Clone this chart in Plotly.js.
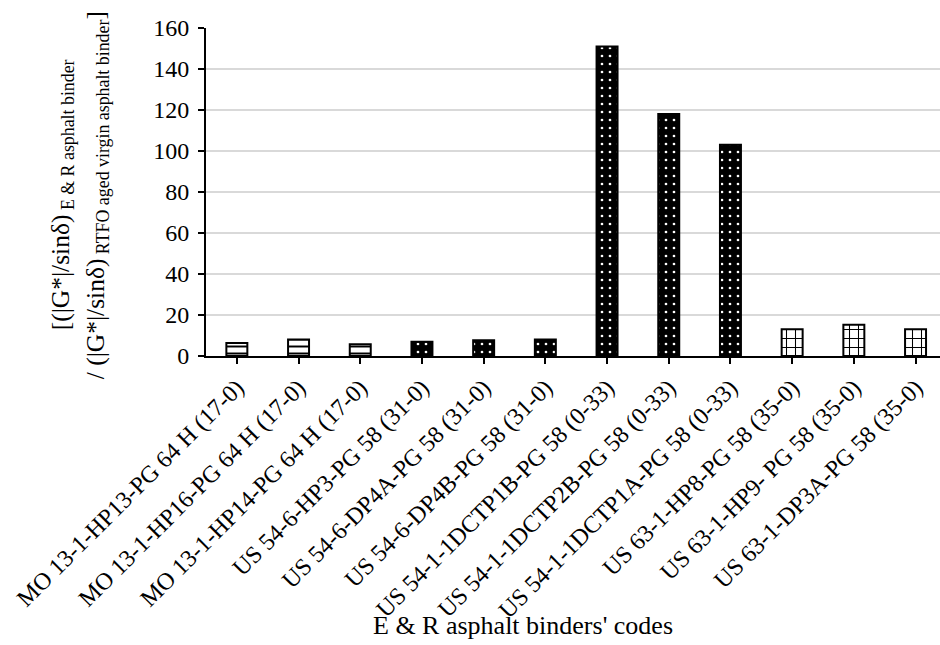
<!DOCTYPE html>
<html>
<head>
<meta charset="utf-8">
<script src="https://cdn.plot.ly/plotly-3.0.1.min.js"></script>
<style>
  html, body { margin: 0; padding: 0; background: #ffffff; }
  #chart { width: 940px; height: 645px; }
</style>
</head>
<body>
<div id="chart"></div>
<script>
// E & R binder codes along the category axis
const binderCodes = [
  "MO 13-1-HP13-PG 64 H (17-0)",
  "MO 13-1-HP16-PG 64 H (17-0)",
  "MO 13-1-HP14-PG 64 H (17-0)",
  "US 54-6-HP3-PG 58 (31-0)",
  "US 54-6-DP4A-PG 58 (31-0)",
  "US 54-6-DP4B-PG 58 (31-0)",
  "US 54-1-1DCTP1B-PG 58 (0-33)",
  "US 54-1-1DCTP2B-PG 58 (0-33)",
  "US 54-1-1DCTP1A-PG 58 (0-33)",
  "US 63-1-HP8-PG 58 (35-0)",
  "US 63-1-HP9- PG 58 (35-0)",
  "US 63-1-DP3A-PG 58 (35-0)"
];

// Ratio of (|G*|/sin delta) of each E & R binder to that of the RTFO aged virgin binder
const stiffnessRatio = [6.3, 8.0, 5.7, 7.0, 7.7, 8.1, 151, 118, 103, 13.0, 15.2, 13.0];

// Road section each binder belongs to (drives the fill pattern)
const roadSection = ["MO 13", "MO 13", "MO 13", "US 54-6", "US 54-6", "US 54-6",
                     "US 54-1", "US 54-1", "US 54-1", "US 63", "US 63", "US 63"];

// Fill pattern per road section
const sectionPattern = {
  "MO 13":   { shape: "-", bg: "#ffffff", fg: "#000000", size: 7, solidity: 0.28 },
  "US 54-6": { shape: ".", bg: "#000000", fg: "#ffffff", size: 8, solidity: 0.09 },
  "US 54-1": { shape: ".", bg: "#000000", fg: "#ffffff", size: 8, solidity: 0.09 },
  "US 63":   { shape: "+", bg: "#ffffff", fg: "#000000", size: 9, solidity: 0.22 }
};

const serif = "Liberation Serif";

// One trace per road section, each drawn on the shared category axis
const traces = Object.keys(sectionPattern).map(section => {
  const idx = roadSection.map((s, i) => (s === section ? i : -1)).filter(i => i >= 0);
  const p = sectionPattern[section];
  return {
    type: "bar",
    name: section,
    x: idx.map(i => binderCodes[i]),
    y: idx.map(i => stiffnessRatio[i]),
    width: 0.34,
    marker: {
      color: p.bg,
      line: { color: "#000000", width: 2 },
      pattern: {
        shape: p.shape,
        fillmode: "overlay",
        bgcolor: p.bg,
        fgcolor: p.fg,
        fgopacity: 1,
        size: p.size,
        solidity: p.solidity
      }
    },
    hoverinfo: "x+y"
  };
});

// Plot area spans 206px..940px; one category is ~61.7px wide
const plotLeft = 206, plotWidth = 940 - 206;
const catWidth = 61.7;

const layout = {
  width: 940,
  height: 645,
  paper_bgcolor: "#ffffff",
  plot_bgcolor: "#ffffff",
  margin: { l: plotLeft, r: 0, t: 28, b: 289, pad: 0 },
  showlegend: false,
  barmode: "overlay",
  font: { family: serif, color: "#000000" },
  xaxis: {
    type: "category",
    categoryorder: "array",
    categoryarray: binderCodes,
    range: [-0.5, -0.5 + plotWidth / catWidth],
    tickangle: -45,
    tickfont: { family: serif, size: 24, color: "#000000" },
    showline: true,
    linecolor: "#000000",
    linewidth: 2,
    ticks: "outside",
    ticklen: 6,
    tickwidth: 2,
    tickcolor: "#000000",
    showgrid: false,
    zeroline: false,
    automargin: false,
    fixedrange: true
  },
  yaxis: {
    range: [0, 160],
    dtick: 20,
    tick0: 0,
    tickfont: { family: serif, size: 24, color: "#000000" },
    ticklabelstandoff: 4,
    showline: true,
    linecolor: "#000000",
    linewidth: 2,
    ticks: "outside",
    ticklen: 6,
    tickwidth: 2,
    tickcolor: "#000000",
    showgrid: true,
    gridcolor: "#d9d9d9",
    gridwidth: 1.5,
    zeroline: false,
    automargin: false,
    fixedrange: true
  },
  annotations: [
    {
      text: "[(|G*|/sinδ)<sub> E &amp; R asphalt binder</sub>",
      xref: "paper", yref: "paper",
      x: (62 - plotLeft) / plotWidth, y: 0.49,
      xanchor: "center", yanchor: "middle",
      textangle: -90, showarrow: false,
      font: { family: serif, size: 25.5, color: "#000000" }
    },
    {
      text: "/ (|G*|/sinδ)<sub> RTFO aged virgin asphalt binder</sub>]",
      xref: "paper", yref: "paper",
      x: (97 - plotLeft) / plotWidth, y: 0.49,
      xanchor: "center", yanchor: "middle",
      textangle: -90, showarrow: false,
      font: { family: serif, size: 25.5, color: "#000000" }
    },
    {
      text: "E &amp; R asphalt binders' codes",
      xref: "paper", yref: "paper",
      x: (523 - plotLeft) / plotWidth, y: (356 - 625) / 328,
      xanchor: "center", yanchor: "middle",
      showarrow: false,
      font: { family: serif, size: 26, color: "#000000" }
    }
  ]
};

Plotly.newPlot("chart", traces, layout, { displayModeBar: false, staticPlot: true });
</script>
</body>
</html>
